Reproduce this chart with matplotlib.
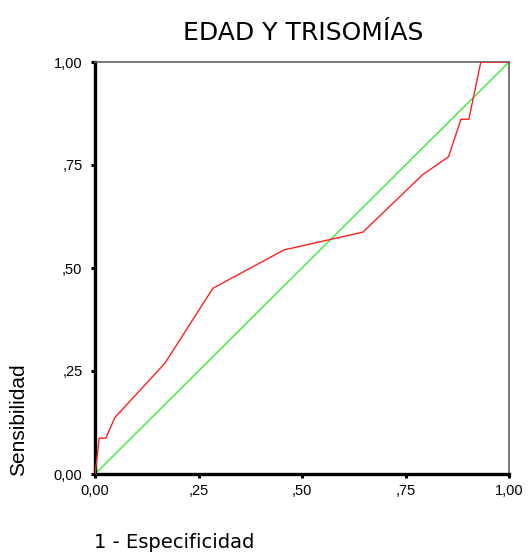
import matplotlib
matplotlib.use("Agg")
import matplotlib.pyplot as plt
from matplotlib.ticker import FixedLocator

# ROC curve for age as a predictor of trisomies
fpr = [0.0, 0.005, 0.010, 0.026, 0.048, 0.169, 0.285, 0.457, 0.647,
       0.791, 0.854, 0.884, 0.903, 0.932, 1.0]
tpr = [0.0, 0.040, 0.087, 0.087, 0.137, 0.269, 0.451, 0.544, 0.587,
       0.726, 0.770, 0.861, 0.861, 1.0, 1.0]
ref_line = [0.0, 1.0]
ticks = [0.0, 0.25, 0.5, 0.75, 1.0]
tick_labels = ["0,00", ",25", ",50", ",75", "1,00"]

W, H = 528, 554
fig = plt.figure(figsize=(W / 100, H / 100), dpi=100)
ax = fig.add_axes([95 / W, (H - 474) / H, 414 / W, 412 / H])

ax.plot(ref_line, ref_line, color="#33ee33", lw=1.0, zorder=2)
ax.plot(fpr, tpr, color="#ff2020", lw=1.0, zorder=3)

ax.set_xlim(0, 1)
ax.set_ylim(0, 1)
ax.xaxis.set_major_locator(FixedLocator(ticks))
ax.yaxis.set_major_locator(FixedLocator(ticks))
ax.set_xticklabels(tick_labels, fontfamily="Liberation Sans", fontsize=10.5)
ax.set_yticklabels(tick_labels, fontfamily="Liberation Sans", fontsize=10.5)
ax.tick_params(direction="out", length=3, width=2.2, color="black")
ax.tick_params(axis="y", pad=6)
ax.tick_params(axis="x", pad=4)

for side in ("left", "bottom"):
    ax.spines[side].set_linewidth(2.4)
    ax.spines[side].set_color("black")
for side in ("top", "right"):
    ax.spines[side].set_linewidth(1.2)
    ax.spines[side].set_color("#606060")

fig.text(303 / W, 1 - 33 / H, "EDAD Y TRISOMÍAS", ha="center", va="center",
         fontsize=18, fontfamily="DejaVu Sans")
fig.text(94 / W, 1 - 543 / H, "1 - Especificidad", ha="left", va="center",
         fontsize=14, fontfamily="DejaVu Sans")
fig.text(19 / W, (H - 476) / H, "Sensibilidad", ha="center", va="bottom",
         rotation=90, fontsize=15, fontfamily="Liberation Sans")

fig.savefig("out.png", dpi=100)
